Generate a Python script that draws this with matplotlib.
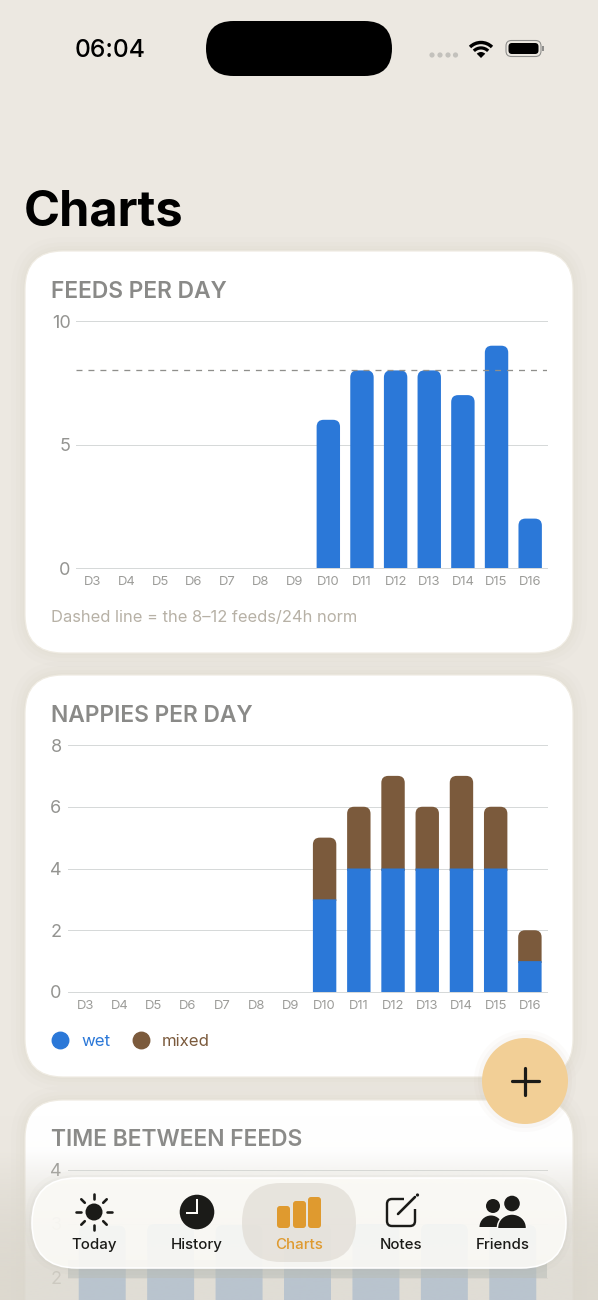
import matplotlib
matplotlib.use("Agg")
import matplotlib.pyplot as plt
import numpy as np
from matplotlib.patches import FancyBboxPatch, Circle, Rectangle, Ellipse, Wedge, Arc, PathPatch
from matplotlib.path import Path
from matplotlib.lines import Line2D

# ---------- data ----------
days = ["D3","D4","D5","D6","D7","D8","D9","D10","D11","D12","D13","D14","D15","D16"]
feeds = [0,0,0,0,0,0,0,6,8,8,8,7,9,2]
feeds_norm = 8
feeds_ticks = [0,5,10]
wet = [0,0,0,0,0,0,0,3,4,4,4,4,4,1]
mixed = [0,0,0,0,0,0,0,2,2,3,2,3,2,1]
nappies_ticks = [0,2,4,6,8]
gap_days = ["D10","D11","D12","D13","D14","D15","D16"]
gap_hours = [2.97,3.0,2.98,3.0,3.0,3.0,2.98]
gap_ticks = [2,3,4]
nav_labels = ["Today","History","Charts","Notes","Friends"]

BLUE="#2B78D8"; BROWN="#7B5A3C"; BG="#ECE8E1"; ORANGE="#DF9A2F"; INK="#1B1B18"
W,H=598,1300
FONT="Inter"
plt.rcParams['font.family']=[FONT,'DejaVu Sans']
px=0.72  # pt per pixel at dpi 100

fig=plt.figure(figsize=(W/100,H/100),dpi=100,facecolor=BG)

def layer(z):
    a=fig.add_axes([0,0,1,1],zorder=z)
    a.set_xlim(0,W); a.set_ylim(H,0); a.axis('off'); a.patch.set_alpha(0)
    return a

def rrect(a,x0,y0,x1,y1,r,**kw):
    p=FancyBboxPatch((x0,y0),x1-x0,y1-y0,boxstyle=f"round,pad=0,rounding_size={r}",**kw)
    a.add_patch(p); return p

def data_axes(x0,x1,ytop,ybot,ymin,ymax):
    ax=fig.add_axes([x0/W,1-ybot/H,(x1-x0)/W,(ybot-ytop)/H],zorder=2)
    ax.patch.set_alpha(0)
    for s in ax.spines.values(): s.set_visible(False)
    ax.set_ylim(ymin,ymax)
    ax.set_axisbelow(True)
    ax.tick_params(length=0)
    return ax

def style_grid(ax):
    ax.grid(axis='y',color="#D6D9D9",lw=1*px)
    for l in ax.get_ygridlines(): l.set_clip_on(False)

def round_top(ax,container,r_px,zorder=1.5):
    """Swap each bar from ax.bar for the same bar with rounded top corners."""
    bb=ax.get_position()
    xr=ax.get_xlim(); yr=ax.get_ylim()
    xu=(xr[1]-xr[0])/(bb.width*W); yu=(yr[1]-yr[0])/(bb.height*H)
    for rect in container:
        h=rect.get_height()
        if h==0: continue
        x,y,w=rect.get_x(),rect.get_y(),rect.get_width()
        rb=FancyBboxPatch((x,y-h),w,2*h,boxstyle=f"round,pad=0,rounding_size={r_px*xu}",
                          mutation_aspect=yu/xu,fc=rect.get_facecolor(),ec="none",zorder=zorder)
        ax.add_patch(rb)
        overlap=2*yu if y>0 else 0  # run 2 px under a segment below, which is drawn on top
        rb.set_clip_path(Rectangle((x-1,y-overlap),w+2,h*1.2+overlap,transform=ax.transData))
        rect.set_visible(False)

# ---------- page + cards ----------
bg=layer(0)
for (y0,y1) in [(251,653),(675,1077),(1100,1400)]:
    for grow,al in [(14,0.05),(9,0.06),(5,0.07),(2,0.08)]:
        rrect(bg,25-grow,y0-grow,573+grow,y1+grow,40+grow,fc="#CFC9BC",ec="none",alpha=al)
    rrect(bg,25,y0,573,y1,38,fc="white",ec="#EFEBE2",lw=1.2*px)

# status bar and title
bg.text(75,50.5,"06:04",fontsize=24.6*px,fontweight=500,color="black",va='center',ha='left')
rrect(bg,206,21,392,76,27.5,fc="black",ec="none")
for x in [432,440,448,455.5]:
    bg.add_patch(Circle((x,55),2.6,fc="#C3C1BC",ec="none"))
for r,lw in [(20,3.4),(13,3.2)]:
    bg.add_patch(Arc((481,58),r*1.55,r*1.55,theta1=225,theta2=315,lw=lw*px,color="black"))
bg.add_patch(Wedge((481,58),6,225,315,fc="black",ec="none"))
rrect(bg,506,40.5,541,56.5,5.5,fc="none",ec="#8E8E8C",lw=1.1*px)
rrect(bg,508.5,43,538.5,54,3.5,fc="black",ec="none")
bg.add_patch(Rectangle((542,46),1.6,5,fc="#8E8E8C",ec="none"))
bg.text(24,212,"Charts",fontsize=48.8*px,fontweight=700,color="black",va='center',ha='left')

titlekw=dict(fontsize=22.8*px,fontweight=600,color="#8A8A88",va='center',ha='left')
bg.text(51,292,"FEEDS PER DAY",**titlekw)
bg.text(51,716,"NAPPIES PER DAY",**titlekw)
bg.text(51,1140,"TIME BETWEEN FEEDS",**titlekw)
bg.text(51,617,"Dashed line = the 8\u201312 feeds/24h norm",fontsize=16.5*px,color="#B7B1A6",va='center',ha='left')

# ---------- chart 1 ----------
ax1=data_axes(76,547,321,568,0,10)
pos=np.arange(len(days))
ax1.set_xlim(-0.5,len(days)-0.5)
b=ax1.bar(pos,feeds,width=23.4/33.64,color=BLUE,linewidth=0)
round_top(ax1,b,7)
ax1.axhline(feeds_norm,color="#8F8F8C",lw=1.3*px,dashes=(4.6,4.6),zorder=3)
ax1.set_yticks(feeds_ticks)
ax1.set_xticks(pos,days)
style_grid(ax1)
ax1.tick_params(axis='y',labelsize=18*px,labelcolor="#949491",pad=4)
ax1.tick_params(axis='x',labelsize=13*px,labelcolor="#9C9C99",pad=6)

# ---------- chart 2 ----------
ax2=data_axes(68,547,745,992,0,8)
ax2.set_xlim(-0.5,len(days)-0.5)
b1=ax2.bar(pos,wet,width=23.4/34.2,color=BLUE,linewidth=0,label="wet",zorder=2)
for r in b1: r.set_snap(False)
b2=ax2.bar(pos,mixed,bottom=wet,width=23.4/34.2,color=BROWN,linewidth=0,label="mixed",zorder=1)
round_top(ax2,b2,7)
ax2.set_yticks(nappies_ticks)
ax2.set_xticks(pos,days)
style_grid(ax2)
ax2.tick_params(axis='y',labelsize=18*px,labelcolor="#949491",pad=4.6)
ax2.tick_params(axis='x',labelsize=13*px,labelcolor="#9C9C99",pad=6)
handles=[Line2D([],[],ls='none',marker='o',ms=16.5*px,color=BLUE,label="wet"),
         Line2D([],[],ls='none',marker='o',ms=16.5*px,color=BROWN,label="mixed")]
leg=ax2.legend(handles=handles,ncol=2,frameon=False,loc='center left',
               bbox_to_anchor=(53/W,1-1041.5/H),bbox_transform=fig.transFigure,
               prop={'size':16.8*px},labelcolor='linecolor',handlelength=0.85,handletextpad=0.85,
               columnspacing=1.35,borderpad=0,borderaxespad=0)

# ---------- chart 3 (runs off the bottom of the screen) ----------
unit=54
ax3=data_axes(68,547,1170,1170+4*unit,0,4)
gpos=np.arange(len(gap_days))
ax3.set_xlim(-0.5,len(gap_days)-0.5)
b3=ax3.bar(gpos,gap_hours,width=47/68.43,color=BLUE,linewidth=0)
round_top(ax3,b3,7)
ax3.set_yticks(gap_ticks)
ax3.set_xticks([])
style_grid(ax3)
ax3.tick_params(axis='y',labelsize=18*px,labelcolor="#949491",pad=4.6)

# ---------- overlays ----------
ov=layer(5)
rgba=np.zeros((200,1,4))
rgba[...,0]=218/255; rgba[...,1]=214/255; rgba[...,2]=204/255
rgba[:,0,3]=np.interp(np.linspace(1110,1300,200),[1110,1150,1170,1190,1230,1268,1300],[0,0.03,0.25,0.45,0.72,0.82,0.82])
ov.imshow(rgba,extent=(0,W,1300,1110),aspect='auto',zorder=0)
ov.set_xlim(0,W); ov.set_ylim(H,0)
ov.add_patch(Rectangle((68,1260),479,18,fc="#B9BDB8",ec="none",alpha=0.55,zorder=1))

# FAB
for grow,al in [(8,0.04),(4,0.06)]:
    ov.add_patch(Circle((525,1081),43+grow,fc="#B8AE98",ec="none",alpha=al,zorder=2))
ov.add_patch(Circle((525,1081),43,fc="#F2CF96",ec="none",zorder=3))
ov.plot([511.5,538.5],[1081,1081],color=INK,lw=3.2*px,solid_capstyle='round',zorder=4)
ov.plot([525,525],[1067.5,1094.5],color=INK,lw=3.2*px,solid_capstyle='round',zorder=4)

# nav pill
for grow,al in [(7,0.04),(3,0.06)]:
    rrect(ov,32-grow,1178-grow,566+grow,1268+grow,45+grow,fc="#A8A89E",ec="none",alpha=al,zorder=5)
rrect(ov,32,1178,566,1268,45,fc="#FCFBF7",ec="none",alpha=0.9,zorder=6)
rrect(ov,32,1178,566,1268,45,fc="none",ec="white",lw=1.6*px,zorder=7)
rrect(ov,242,1183,356,1262,39,fc="#DDD8D0",ec="none",alpha=0.62,zorder=7)

nav_x=[94.5,197,299.5,401,503]
for x,l in zip(nav_x,nav_labels):
    ov.text(x,1245,l,fontsize=15*px,fontweight=500,ha='center',va='center',
            color=ORANGE if l=="Charts" else INK,zorder=9)

# sun
cx,cy=94,1212
ov.add_patch(Circle((cx,cy),8.5,fc=INK,ec="none",zorder=9))
for a in np.deg2rad(np.arange(0,360,45)):
    ov.plot([cx+13*np.cos(a),cx+18*np.cos(a)],[cy+13*np.sin(a),cy+18*np.sin(a)],
            color=INK,lw=2.6*px,solid_capstyle='round',zorder=9)
# clock
ov.add_patch(Circle((197,1212),17.3,fc=INK,ec="none",zorder=9))
ov.plot([197,197,187],[1200,1213,1213],color="#FCFBF7",lw=2*px,solid_joinstyle='miter',zorder=10)
# bars icon
for x0,x1,top in [(277,290,1206),(293,306,1201),(308,321,1197)]:
    rrect(ov,x0,top,x1,1228,3,fc=ORANGE,ec="none",zorder=9)
# notes icon
verts=[(404,1199),(392,1199),(387,1199),(387,1204),(387,1221),(387,1226),(392,1226),
       (410,1226),(415,1226),(415,1221),(415,1209)]
codes=[Path.MOVETO,Path.LINETO,Path.CURVE3,Path.CURVE3,Path.LINETO,Path.CURVE3,Path.CURVE3,
       Path.LINETO,Path.CURVE3,Path.CURVE3,Path.LINETO]
ov.add_patch(PathPatch(Path(verts,codes),fc="none",ec=INK,lw=2.4*px,zorder=9))
ov.plot([398,415],[1214,1197],color=INK,lw=2.6*px,solid_capstyle='round',zorder=9)
ov.add_patch(Circle((417.5,1195),1.6,fc=INK,ec="none",zorder=9))
# friends icon
ov.add_patch(Circle((493,1206),7,fc=INK,ec="none",zorder=9))
ov.add_patch(Circle((512,1203.5),7.8,fc=INK,ec="none",zorder=9))
ov.add_patch(Wedge((491,1227),11.5,180,360,fc=INK,ec="none",zorder=9))
body=Ellipse((512,1227.5),29,27,fc=INK,ec="#FCFBF7",lw=1.5*px,zorder=9)
ov.add_patch(body)
body.set_clip_path(Rectangle((490,1210),45,17.5,transform=ov.transData))

fig.savefig("out.png",dpi=100,facecolor=BG)
